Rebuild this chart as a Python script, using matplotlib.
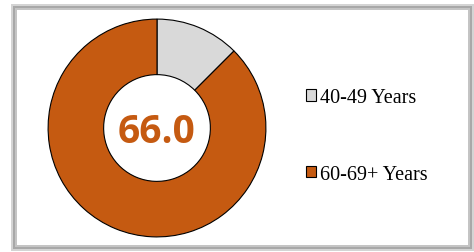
import matplotlib.pyplot as plt
from matplotlib.patches import Rectangle

# data
labels = ["40-49 Years", "60-69+ Years"]
shares = [12.5, 87.5]
colors = ["#D9D9D9", "#C55A11"]
center_label = "66.0"

W, H = 474, 253
fig = plt.figure(figsize=(W / 100, H / 100), dpi=100)

# beveled grey frame
def px_rect(x0, y0, x1, y1, color):
    fig.patches.append(Rectangle((x0 / W, 1 - y1 / H), (x1 - x0) / W, (y1 - y0) / H,
                                 transform=fig.transFigure, facecolor=color,
                                 edgecolor="none", zorder=-10))

px_rect(11, 5, 474, 252, "#d4d4d4")
px_rect(13, 7, 472, 250, "#a8a8a8")
px_rect(15, 9, 470, 248, "#c4c4c4")
px_rect(17, 11, 468, 246, "#ffffff")

# donut
cx, cy, r = 157, 129, 110
ax = fig.add_axes([(cx - r) / W, 1 - (cy + r) / H, 2 * r / W, 2 * r / H])
ax.set_zorder(5)
ax.patch.set_visible(False)
wedges, _ = ax.pie(shares, colors=colors, startangle=90, counterclock=False,
                   radius=1.0, wedgeprops=dict(width=0.51, edgecolor="black", linewidth=0.8))
ax.set_xlim(-1.01, 1.01)
ax.set_ylim(-1.01, 1.01)
ax.set_aspect("equal")
ax.axis("off")
ax.text(0, -0.03, center_label, ha="center", va="center", fontsize=28,
        fontweight="bold", color="#C55A11", family="Open Sans")

leg = fig.legend(wedges, labels, loc="center left", bbox_to_anchor=(306 / W, 1 - 137 / H),
                 frameon=False, prop={"family": "Liberation Serif", "size": 14.5},
                 handlelength=0.5, handleheight=0.5, handletextpad=0.2,
                 labelspacing=2.85, borderpad=0, borderaxespad=0)
for h in leg.legend_handles:
    h.set_linewidth(0.8)

fig.savefig("out.png", dpi=100)
